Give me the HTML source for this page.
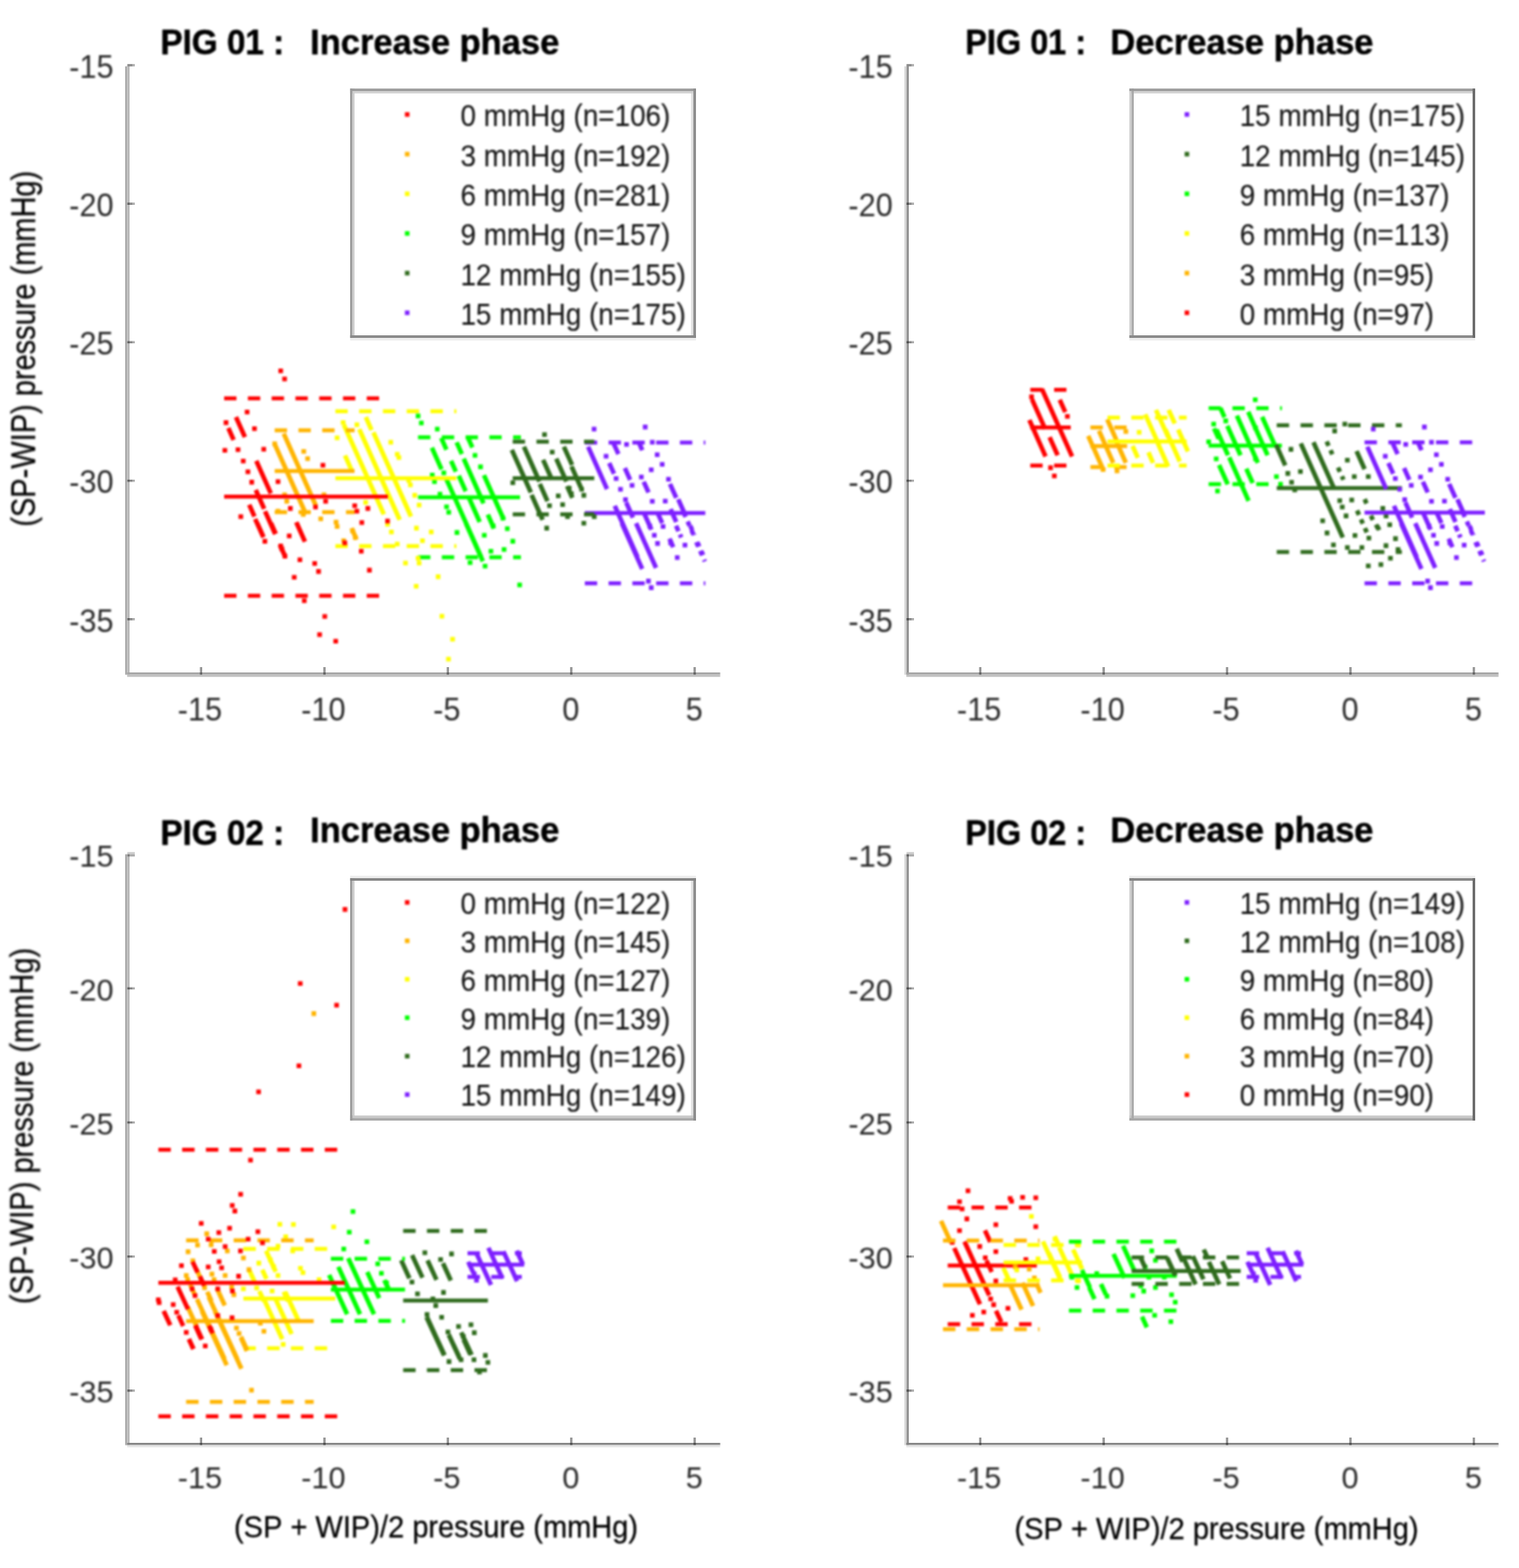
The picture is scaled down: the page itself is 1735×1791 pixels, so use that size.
<!DOCTYPE html>
<html lang="en">
<head>
<meta charset="utf-8">
<title>Bland-Altman plots: PIG 01 / PIG 02, increase and decrease phase</title>
<style>
html,body{margin:0;padding:0;background:#fff;}
body{width:1735px;height:1791px;overflow:hidden;}
svg{display:block;font-family:"Liberation Sans",sans-serif;font-kerning:none;}
.soft{filter:blur(0.8px);}
</style>
</head>
<body>
<svg width="1735" height="1791" viewBox="0 0 1735 1791">
<rect x="0" y="0" width="1735" height="1791" fill="#ffffff"/>
<g id="points" class="soft">
<g id="points-TL">
<g fill="#7d1fff" stroke="#7d1fff">
<path d="M672.8 512.6L692.3 556.3M701.9 508.8L705.3 516.3M730.7 507.6L732.6 511.9M696.9 531.3L700.3 538.8M714.8 537.0L718.7 545.7M736.3 552.6L739.7 560.1M766.3 555.1L771.4 566.3M716.3 576.4L721.9 588.9M703.2 580.1L727.2 634.0M775.7 572.6L781.3 585.1M736.3 587.6L743.0 602.6M751.9 587.6L755.3 595.1M767.0 583.9L771.4 593.9M728.2 601.4L742.8 634.0M765.7 617.6L767.9 622.6M738.8 625.1L742.8 634.0M711.3 600.0L732.5 647.5M727.6 600.0L735.4 617.5M738.8 625.0L748.3 646.3" fill="none" stroke-width="5.2" stroke-linecap="square"/>
<path d="M780.7 585.1L793.0 612.6M772.6 601.4L778.2 613.9M796.3 618.9L803.1 634.0M772.0 600.0L778.1 613.8M788.2 600.0L793.2 611.3M795.1 618.8L805.1 641.3" fill="none" stroke-width="5.2" stroke-dasharray="5.4 5.6" stroke-dashoffset="-0.5"/>
<path d="M675.9 487.4h5.3v5.3h-5.3zM734.3 485.1h5.3v5.3h-5.3zM713.0 504.9h5.3v5.3h-5.3zM742.4 502.4h5.3v5.3h-5.3zM689.6 518.4h5.3v5.3h-5.3zM748.0 516.8h5.3v5.3h-5.3zM753.7 527.7h5.3v5.3h-5.3zM741.2 533.9h5.3v5.3h-5.3zM729.9 542.2h5.3v5.3h-5.3zM760.9 544.7h5.3v5.3h-5.3zM701.1 543.9h5.3v5.3h-5.3zM719.3 551.8h5.3v5.3h-5.3zM706.1 556.2h5.3v5.3h-5.3zM711.8 568.1h5.3v5.3h-5.3zM742.4 570.0h5.3v5.3h-5.3zM757.2 569.7h5.3v5.3h-5.3zM754.7 598.7h5.3v5.3h-5.3zM744.7 608.7h5.3v5.3h-5.3zM748.4 618.1h5.3v5.3h-5.3zM779.7 620.0h5.3v5.3h-5.3zM739.7 598.6h5.3v5.3h-5.3zM763.4 617.4h5.3v5.3h-5.3zM770.9 634.2h5.3v5.3h-5.3zM738.0 661.1h5.3v5.3h-5.3zM741.2 668.6h5.3v5.3h-5.3z" stroke="none"/>
<line x1="668.00" y1="505.60" x2="805.60" y2="505.60" stroke-width="4.5" stroke-dasharray="14.1 13.05"/>
<line x1="668.00" y1="666.25" x2="805.60" y2="666.25" stroke-width="4.5" stroke-dasharray="14.1 13.05"/>
<line x1="668.00" y1="586.00" x2="805.60" y2="586.00" stroke-width="4.5"/>
</g>
<g fill="#2f6b1d" stroke="#2f6b1d">
<path d="M585.7 516.3L605.3 560.1M599.5 512.6L615.1 547.6M621.4 527.6L629.2 545.1M636.4 526.3L645.9 547.6M645.1 512.6L652.4 528.8M608.2 567.6L618.8 591.4M617.6 555.1L624.3 570.1M653.8 535.1L662.7 555.1M648.8 557.6L652.7 566.3" fill="none" stroke-width="5.2" stroke-linecap="square"/>
<path d="M619.3 493.7h5.3v5.3h-5.3zM628.1 513.7h5.3v5.3h-5.3zM583.1 548.7h5.3v5.3h-5.3zM625.0 575.0h5.3v5.3h-5.3zM635.0 563.7h5.3v5.3h-5.3zM640.0 573.7h5.3v5.3h-5.3zM621.8 600.6h5.3v5.3h-5.3zM645.6 587.5h5.3v5.3h-5.3zM647.5 554.9h5.3v5.3h-5.3zM650.0 561.2h5.3v5.3h-5.3zM664.2 563.1h5.3v5.3h-5.3zM661.7 556.2h5.3v5.3h-5.3zM676.1 587.5h5.3v5.3h-5.3zM664.2 595.0h5.3v5.3h-5.3z" stroke="none"/>
<line x1="585.60" y1="504.60" x2="678.75" y2="504.60" stroke-width="4.5" stroke-dasharray="14.1 13.05"/>
<line x1="585.60" y1="587.50" x2="678.75" y2="587.50" stroke-width="4.5" stroke-dasharray="14.1 13.05"/>
<line x1="585.60" y1="546.25" x2="678.75" y2="546.25" stroke-width="4.5"/>
</g>
<g fill="#00ff00" stroke="#00ff00">
<path d="M505.0 502.6L508.9 511.3M522.6 507.6L526.5 516.3M535.7 502.6L538.5 508.8M494.4 513.8L503.3 533.8M516.3 528.8L519.6 536.3M530.7 526.3L551.3 572.6M510.0 547.6L548.6 634.0M553.8 545.1L574.5 591.4M525.1 545.7L530.9 558.8M536.3 570.1L546.9 593.9M558.2 590.1L563.2 601.4M533.2 600.0L550.5 638.8" fill="none" stroke-width="5.2" stroke-linecap="square"/>
<path d="M474.9 472.4h5.3v5.3h-5.3zM478.6 480.5h5.3v5.3h-5.3zM496.8 487.4h5.3v5.3h-5.3zM539.9 517.4h5.3v5.3h-5.3zM546.2 530.6h5.3v5.3h-5.3zM491.1 539.9h5.3v5.3h-5.3zM493.6 547.4h5.3v5.3h-5.3zM504.3 537.4h5.3v5.3h-5.3zM499.9 561.8h5.3v5.3h-5.3zM507.4 576.2h5.3v5.3h-5.3zM509.9 582.5h5.3v5.3h-5.3zM519.3 605.6h5.3v5.3h-5.3zM550.5 608.7h5.3v5.3h-5.3zM576.8 601.2h5.3v5.3h-5.3zM583.1 615.6h5.3v5.3h-5.3zM571.8 589.3h5.3v5.3h-5.3zM573.1 625.0h5.3v5.3h-5.3zM558.1 626.9h5.3v5.3h-5.3zM534.3 639.9h5.3v5.3h-5.3zM551.4 643.9h5.3v5.3h-5.3zM590.9 665.5h5.3v5.3h-5.3zM560.6 598.0h5.3v5.3h-5.3z" stroke="none"/>
<line x1="477.50" y1="499.40" x2="595.00" y2="499.40" stroke-width="4.5" stroke-dasharray="14.1 13.05"/>
<line x1="477.50" y1="636.60" x2="595.00" y2="636.60" stroke-width="4.5" stroke-dasharray="14.1 13.05"/>
<line x1="477.50" y1="568.10" x2="594.00" y2="568.10" stroke-width="4.5"/>
</g>
<g fill="#ffff00" stroke="#ffff00">
<path d="M418.9 478.8L423.3 488.8M393.8 487.5L437.4 585.1M411.4 492.6L455.5 591.4M427.6 496.3L468.4 587.6M395.1 522.6L400.7 535.1" fill="none" stroke-width="5.2" stroke-linecap="square"/>
<path d="M389.3 479.9h5.3v5.3h-5.3zM405.0 482.4h5.3v5.3h-5.3zM382.4 497.4h5.3v5.3h-5.3zM443.7 502.4h5.3v5.3h-5.3zM415.0 571.2h5.3v5.3h-5.3zM440.0 596.2h5.3v5.3h-5.3zM444.4 605.0h5.3v5.3h-5.3zM451.1 516.2h5.3v5.3h-5.3zM453.0 519.9h5.3v5.3h-5.3zM464.2 546.2h5.3v5.3h-5.3zM466.1 551.2h5.3v5.3h-5.3zM471.1 563.1h5.3v5.3h-5.3zM476.1 574.3h5.3v5.3h-5.3zM473.0 600.6h5.3v5.3h-5.3zM489.9 605.0h5.3v5.3h-5.3zM479.9 615.0h5.3v5.3h-5.3zM451.1 618.7h5.3v5.3h-5.3zM460.5 640.5h5.3v5.3h-5.3zM474.9 634.9h5.3v5.3h-5.3zM476.1 640.5h5.3v5.3h-5.3zM497.8 656.1h5.3v5.3h-5.3zM472.7 667.0h5.3v5.3h-5.3zM502.1 701.2h5.3v5.3h-5.3zM514.3 727.4h5.3v5.3h-5.3zM509.6 750.2h5.3v5.3h-5.3z" stroke="none"/>
<line x1="383.10" y1="469.75" x2="521.25" y2="469.75" stroke-width="4.5" stroke-dasharray="14.1 13.05"/>
<line x1="383.10" y1="623.75" x2="521.25" y2="623.75" stroke-width="4.5" stroke-dasharray="14.1 13.05"/>
<line x1="383.10" y1="546.25" x2="521.25" y2="546.25" stroke-width="4.5"/>
</g>
<g fill="#ffb400" stroke="#ffb400">
<path d="M325.1 497.6L359.7 575.1M315.0 510.1L348.5 585.1M402.6 605.6L406.2 613.8" fill="none" stroke-width="5.2" stroke-linecap="square"/>
<path d="M311.1 504.3h5.3v5.3h-5.3zM344.3 513.0h5.3v5.3h-5.3zM348.7 521.2h5.3v5.3h-5.3zM322.4 562.4h5.3v5.3h-5.3zM324.9 570.0h5.3v5.3h-5.3zM367.4 562.4h5.3v5.3h-5.3zM314.9 581.2h5.3v5.3h-5.3zM343.7 585.0h5.3v5.3h-5.3zM363.7 590.0h5.3v5.3h-5.3zM381.2 593.7h5.3v5.3h-5.3zM382.4 598.7h5.3v5.3h-5.3zM400.0 603.7h5.3v5.3h-5.3zM403.1 611.2h5.3v5.3h-5.3zM389.9 615.0h5.3v5.3h-5.3z" stroke="none"/>
<line x1="313.75" y1="491.50" x2="405.00" y2="491.50" stroke-width="4.5" stroke-dasharray="14.1 13.05"/>
<line x1="313.75" y1="585.00" x2="405.00" y2="585.00" stroke-width="4.5" stroke-dasharray="14.1 13.05"/>
<line x1="313.75" y1="538.10" x2="405.00" y2="538.10" stroke-width="4.5"/>
</g>
<g fill="#ff0000" stroke="#ff0000">
<path d="M270.6 478.8L278.7 496.9M261.9 491.3L265.8 500.1M293.8 528.8L308.3 561.3M293.2 562.0L300.7 578.9M285.7 578.9L289.6 587.6M303.8 586.4L313.3 607.6M292.5 595.1L299.8 611.4M339.4 598.9L347.3 616.4M320.7 624.5L324.9 633.9M295.0 600.0L299.5 610.0M310.7 600.0L314.0 607.5M340.1 600.0L347.3 616.3" fill="none" stroke-width="5.2" stroke-linecap="square"/>
<path d="M318.0 420.9h5.3v5.3h-5.3zM322.4 430.2h5.3v5.3h-5.3zM279.6 468.0h5.3v5.3h-5.3zM255.5 480.1h5.3v5.3h-5.3zM288.0 487.0h5.3v5.3h-5.3zM254.2 511.8h5.3v5.3h-5.3zM269.2 510.9h5.3v5.3h-5.3zM298.6 510.5h5.3v5.3h-5.3zM275.2 523.9h5.3v5.3h-5.3zM280.5 536.2h5.3v5.3h-5.3zM284.9 548.1h5.3v5.3h-5.3zM314.9 547.4h5.3v5.3h-5.3zM366.2 528.7h5.3v5.3h-5.3zM369.3 570.0h5.3v5.3h-5.3zM329.0 578.1h5.3v5.3h-5.3zM357.7 576.5h5.3v5.3h-5.3zM402.5 575.0h5.3v5.3h-5.3zM405.0 581.2h5.3v5.3h-5.3zM417.5 578.1h5.3v5.3h-5.3zM272.4 587.5h5.3v5.3h-5.3zM299.9 615.6h5.3v5.3h-5.3zM327.7 609.4h5.3v5.3h-5.3zM410.6 594.3h5.3v5.3h-5.3zM410.0 626.9h5.3v5.3h-5.3zM440.0 592.5h5.3v5.3h-5.3zM318.0 621.1h5.3v5.3h-5.3zM319.3 624.2h5.3v5.3h-5.3zM322.8 632.6h5.3v5.3h-5.3zM339.9 636.7h5.3v5.3h-5.3zM356.8 640.9h5.3v5.3h-5.3zM361.2 650.1h5.3v5.3h-5.3zM333.4 656.8h5.3v5.3h-5.3zM419.3 648.6h5.3v5.3h-5.3zM344.9 683.4h5.3v5.3h-5.3zM368.3 701.5h5.3v5.3h-5.3zM362.4 722.2h5.3v5.3h-5.3zM380.8 729.7h5.3v5.3h-5.3zM391.2 617.4h5.3v5.3h-5.3z" stroke="none"/>
<line x1="256.00" y1="455.00" x2="433.00" y2="455.00" stroke-width="4.5" stroke-dasharray="14.1 13.05"/>
<line x1="256.00" y1="680.40" x2="433.00" y2="680.40" stroke-width="4.5" stroke-dasharray="14.1 13.05"/>
<line x1="256.00" y1="567.25" x2="443.00" y2="567.25" stroke-width="4.5"/>
</g>
</g>
<g id="points-TR">
<g fill="#ff0000" stroke="#ff0000">
<path d="M1179.7 458.3L1192.6 487.2M1176.8 482.1L1193.2 519.0M1191.2 446.7L1223.5 519.0M1199.9 501.7L1207.0 517.6M1211.5 459.0L1215.7 468.4" fill="none" stroke-width="5.2" stroke-linecap="square"/>
<path d="M1216.5 473.0h5.3v5.3h-5.3zM1175.6 450.6h5.3v5.3h-5.3zM1197.3 531.6h5.3v5.3h-5.3zM1201.6 541.0h5.3v5.3h-5.3z" stroke="none"/>
<line x1="1176.80" y1="445.25" x2="1218.50" y2="445.25" stroke-width="4.5" stroke-dasharray="14.1 13.1"/>
<line x1="1176.80" y1="531.80" x2="1218.50" y2="531.80" stroke-width="4.5" stroke-dasharray="14.1 13.1"/>
<line x1="1176.80" y1="488.20" x2="1223.00" y2="488.20" stroke-width="4.5"/>
</g>
<g fill="#ffb400" stroke="#ffb400">
<path d="M1244.0 500.2L1259.5 535.0M1256.3 494.4L1270.5 526.3M1265.7 481.4L1274.1 500.2M1275.9 506.0L1284.9 526.3" fill="none" stroke-width="5.2" stroke-linecap="square"/>
<path d="M1283.3 490.3h5.3v5.3h-5.3zM1273.2 535.2h5.3v5.3h-5.3zM1257.3 533.8h5.3v5.3h-5.3z" stroke="none"/>
<line x1="1245.50" y1="488.20" x2="1287.40" y2="488.20" stroke-width="4.5" stroke-dasharray="14.1 13.1"/>
<line x1="1245.50" y1="533.50" x2="1287.40" y2="533.50" stroke-width="4.5" stroke-dasharray="14.1 13.1"/>
<line x1="1245.50" y1="509.60" x2="1287.40" y2="509.60" stroke-width="4.5"/>
</g>
<g fill="#ffff00" stroke="#ffff00">
<path d="M1309.1 475.6L1322.7 506.0M1321.4 470.6L1333.4 497.3M1323.6 508.9L1333.3 530.6M1335.9 470.6L1340.8 481.4M1332.3 493.0L1346.5 524.8M1346.8 493.0L1355.8 513.3M1294.7 511.8L1298.6 520.5M1312.8 519.0L1316.0 526.3" fill="none" stroke-width="5.2" stroke-linecap="square"/>
<path d="M1298.5 491.1h5.3v5.3h-5.3z" stroke="none"/>
<line x1="1265.00" y1="477.10" x2="1355.40" y2="477.10" stroke-width="4.5" stroke-dasharray="14.1 13.1"/>
<line x1="1265.00" y1="531.80" x2="1355.40" y2="531.80" stroke-width="4.5" stroke-dasharray="14.1 13.1"/>
<line x1="1265.00" y1="504.30" x2="1355.40" y2="504.30" stroke-width="4.5"/>
</g>
<g fill="#00ff00" stroke="#00ff00">
<path d="M1395.0 468.4L1397.6 474.2M1390.6 493.0L1401.6 517.6M1402.9 488.7L1415.9 517.6M1413.8 477.1L1435.7 526.3M1426.8 472.7L1446.8 517.6M1442.7 478.5L1455.0 506.0M1393.5 533.5L1401.3 550.9M1405.1 524.8L1425.1 569.7M1424.6 537.8L1429.8 549.4M1387.7 491.6L1391.0 498.8" fill="none" stroke-width="5.2" stroke-linecap="square"/>
<path d="M1431.1 453.9h5.3v5.3h-5.3zM1383.6 481.7h5.3v5.3h-5.3zM1397.4 478.1h5.3v5.3h-5.3zM1386.5 521.5h5.3v5.3h-5.3zM1431.4 521.5h5.3v5.3h-5.3zM1431.4 486.0h5.3v5.3h-5.3zM1388.0 558.3h5.3v5.3h-5.3zM1455.3 541.7h5.3v5.3h-5.3zM1460.0 550.4h5.3v5.3h-5.3zM1377.9 501.9h5.3v5.3h-5.3z" stroke="none"/>
<line x1="1380.50" y1="466.20" x2="1464.20" y2="466.20" stroke-width="4.5" stroke-dasharray="14.1 13.1"/>
<line x1="1380.50" y1="553.00" x2="1464.20" y2="553.00" stroke-width="4.5" stroke-dasharray="14.1 13.1"/>
<line x1="1380.50" y1="508.90" x2="1464.20" y2="508.90" stroke-width="4.5"/>
</g>
<g fill="#2f6b1d" stroke="#2f6b1d">
<path d="M1458.6 510.4L1467.0 529.2M1486.8 508.9L1532.7 611.6M1501.3 507.5L1522.6 555.2M1550.5 517.6L1557.6 533.5" fill="none" stroke-width="5.2" stroke-linecap="square"/>
<path d="M1515.1 503.8L1521.8 519.0M1528.1 533.5L1534.5 548.0M1549.8 582.7L1562.1 610.2M1558.5 569.7L1562.3 578.4M1565.7 588.5L1568.9 595.7M1572.9 600.1L1576.8 608.7M1571.5 598.6L1576.1 608.7" fill="none" stroke-width="5.2" stroke-dasharray="5.4 5.6" stroke-dashoffset="-0.5"/>
<path d="M1471.9 510.6h5.3v5.3h-5.3zM1468.3 538.1h5.3v5.3h-5.3zM1482.7 535.9h5.3v5.3h-5.3zM1472.6 548.2h5.3v5.3h-5.3zM1476.2 556.9h5.3v5.3h-5.3zM1536.3 522.9h5.3v5.3h-5.3zM1544.2 541.7h5.3v5.3h-5.3zM1560.2 541.7h5.3v5.3h-5.3zM1527.6 569.2h5.3v5.3h-5.3zM1541.3 568.5h5.3v5.3h-5.3zM1530.5 576.4h5.3v5.3h-5.3zM1534.8 586.6h5.3v5.3h-5.3zM1508.1 592.3h5.3v5.3h-5.3zM1513.1 606.1h5.3v5.3h-5.3zM1545.0 609.0h5.3v5.3h-5.3zM1560.9 611.9h5.3v5.3h-5.3zM1520.4 619.8h5.3v5.3h-5.3zM1580.4 620.6h5.3v5.3h-5.3zM1560.2 643.7h5.3v5.3h-5.3zM1574.6 642.3h5.3v5.3h-5.3zM1585.5 635.0h5.3v5.3h-5.3zM1576.8 577.9h5.3v5.3h-5.3zM1584.7 596.7h5.3v5.3h-5.3zM1533.4 481.7h5.3v5.3h-5.3zM1521.8 489.6h5.3v5.3h-5.3zM1536.3 622.7h5.3v5.3h-5.3zM1552.9 622.7h5.3v5.3h-5.3zM1594.2 624.9h5.3v5.3h-5.3zM1591.3 612.6h5.3v5.3h-5.3zM1580.5 586.6h5.3v5.3h-5.3z" stroke="none"/>
<line x1="1458.30" y1="485.80" x2="1601.20" y2="485.80" stroke-width="4.5" stroke-dasharray="14.1 13.1"/>
<line x1="1458.30" y1="630.40" x2="1601.20" y2="630.40" stroke-width="4.5" stroke-dasharray="14.1 13.1"/>
<line x1="1458.30" y1="557.40" x2="1601.20" y2="557.40" stroke-width="4.5"/>
</g>
<g fill="#7d1fff" stroke="#7d1fff">
<path d="M1562.8 512.6L1582.3 556.3M1591.9 508.8L1595.3 516.3M1620.7 507.6L1622.6 511.9M1586.9 531.3L1590.3 538.8M1604.8 537.0L1608.7 545.7M1626.3 552.6L1629.7 560.1M1656.3 555.1L1661.4 566.3M1606.3 576.4L1611.9 588.9M1593.2 580.1L1617.2 634.0M1665.7 572.6L1671.3 585.1M1626.3 587.6L1633.0 602.6M1641.9 587.6L1645.3 595.1M1657.0 583.9L1661.4 593.9M1618.2 601.4L1632.8 634.0M1655.7 617.6L1657.9 622.6M1628.8 625.1L1632.8 634.0M1601.3 600.0L1622.5 647.5M1617.6 600.0L1625.4 617.5M1628.8 625.0L1638.3 646.3" fill="none" stroke-width="5.2" stroke-linecap="square"/>
<path d="M1670.7 585.1L1683.0 612.6M1662.6 601.4L1668.2 613.9M1686.3 618.9L1693.1 634.0M1662.0 600.0L1668.1 613.8M1678.2 600.0L1683.2 611.3M1685.1 618.8L1695.1 641.3" fill="none" stroke-width="5.2" stroke-dasharray="5.4 5.6" stroke-dashoffset="-0.5"/>
<path d="M1565.9 487.4h5.3v5.3h-5.3zM1624.3 485.1h5.3v5.3h-5.3zM1603.0 504.9h5.3v5.3h-5.3zM1632.4 502.4h5.3v5.3h-5.3zM1579.6 518.4h5.3v5.3h-5.3zM1638.0 516.8h5.3v5.3h-5.3zM1643.7 527.7h5.3v5.3h-5.3zM1631.2 533.9h5.3v5.3h-5.3zM1619.9 542.2h5.3v5.3h-5.3zM1650.9 544.7h5.3v5.3h-5.3zM1591.1 543.9h5.3v5.3h-5.3zM1609.3 551.8h5.3v5.3h-5.3zM1596.1 556.2h5.3v5.3h-5.3zM1601.8 568.1h5.3v5.3h-5.3zM1632.4 570.0h5.3v5.3h-5.3zM1647.2 569.7h5.3v5.3h-5.3zM1644.7 598.7h5.3v5.3h-5.3zM1634.7 608.7h5.3v5.3h-5.3zM1638.4 618.1h5.3v5.3h-5.3zM1669.7 620.0h5.3v5.3h-5.3zM1629.7 598.6h5.3v5.3h-5.3zM1653.4 617.4h5.3v5.3h-5.3zM1660.9 634.2h5.3v5.3h-5.3zM1628.0 661.1h5.3v5.3h-5.3zM1631.2 668.6h5.3v5.3h-5.3z" stroke="none"/>
<line x1="1558.60" y1="505.30" x2="1682.50" y2="505.30" stroke-width="4.5" stroke-dasharray="14.1 13.1"/>
<line x1="1558.60" y1="666.30" x2="1682.50" y2="666.30" stroke-width="4.5" stroke-dasharray="14.1 13.1"/>
<line x1="1558.60" y1="585.60" x2="1696.00" y2="585.60" stroke-width="4.5"/>
</g>
</g>
<g id="points-BL">
<g fill="#7d1fff" stroke="#7d1fff">
<path d="M545.1 1433.5L559.8 1465.3M558.9 1427.6L572.8 1457.8M576.1 1431.8L589.6 1461.1M591.2 1431.0L596.2 1441.9M535.9 1443.6L539.8 1451.9" fill="none" stroke-width="5.2" stroke-linecap="square"/>
<path d="M539.1 1452.6h5.3v5.3h-5.3zM541.6 1459.7h5.3v5.3h-5.3z" stroke="none"/>
<line x1="534.00" y1="1431.40" x2="596.00" y2="1431.40" stroke-width="4.5" stroke-dasharray="14.2 12.95"/>
<line x1="534.00" y1="1458.60" x2="596.00" y2="1458.60" stroke-width="4.5" stroke-dasharray="14.2 12.95"/>
<line x1="534.00" y1="1444.40" x2="598.70" y2="1444.40" stroke-width="4.5"/>
</g>
<g fill="#2f6b1d" stroke="#2f6b1d">
<path d="M459.3 1441.9L466.6 1457.8M471.8 1436.0L481.5 1457.0M489.4 1441.9L497.5 1459.5M507.0 1445.2L513.9 1460.3M488.6 1506.4L506.7 1545.7M513.7 1527.3L524.2 1550.0M530.5 1532.3L536.2 1544.9M518.7 1537.4L523.4 1547.4M488.2 1506.7L505.9 1545.2M513.7 1526.8L523.0 1546.9M527.9 1524.3L537.6 1545.2" fill="none" stroke-width="5.2" stroke-linecap="square"/>
<path d="M482.6 1428.3h5.3v5.3h-5.3zM500.6 1435.9h5.3v5.3h-5.3zM513.1 1429.6h5.3v5.3h-5.3zM467.9 1461.8h5.3v5.3h-5.3zM474.2 1475.2h5.3v5.3h-5.3zM503.9 1473.6h5.3v5.3h-5.3zM491.8 1481.1h5.3v5.3h-5.3zM495.1 1488.6h5.3v5.3h-5.3zM485.1 1498.7h5.3v5.3h-5.3zM501.8 1502.0h5.3v5.3h-5.3zM521.1 1512.5h5.3v5.3h-5.3zM535.3 1510.4h5.3v5.3h-5.3zM509.0 1518.8h5.3v5.3h-5.3zM539.1 1519.6h5.3v5.3h-5.3zM526.5 1523.8h5.3v5.3h-5.3zM551.7 1545.6h5.3v5.3h-5.3zM510.2 1552.6h5.3v5.3h-5.3zM524.0 1550.5h5.3v5.3h-5.3zM538.7 1550.5h5.3v5.3h-5.3zM554.6 1553.5h5.3v5.3h-5.3zM545.0 1564.4h5.3v5.3h-5.3z" stroke="none"/>
<line x1="460.50" y1="1405.90" x2="557.30" y2="1405.90" stroke-width="4.5" stroke-dasharray="14.2 12.95"/>
<line x1="460.50" y1="1564.90" x2="557.30" y2="1564.90" stroke-width="4.5" stroke-dasharray="14.2 12.95"/>
<line x1="460.50" y1="1485.40" x2="557.30" y2="1485.40" stroke-width="4.5"/>
</g>
<g fill="#00ff00" stroke="#00ff00">
<path d="M387.5 1449.4L410.2 1498.8M398.8 1439.4L426.2 1498.8M377.0 1458.6L395.5 1498.8M420.6 1455.3L432.1 1480.4M440.7 1465.3L443.4 1471.2M440.0 1464.5L443.5 1472.0" fill="none" stroke-width="5.2" stroke-linecap="square"/>
<path d="M400.5 1381.3h5.3v5.3h-5.3zM396.3 1404.7h5.3v5.3h-5.3zM416.4 1415.7h5.3v5.3h-5.3zM390.0 1423.9h5.3v5.3h-5.3zM428.8 1440.9h5.3v5.3h-5.3zM433.0 1451.8h5.3v5.3h-5.3zM438.9 1462.7h5.3v5.3h-5.3z" stroke="none"/>
<line x1="377.90" y1="1437.70" x2="462.60" y2="1437.70" stroke-width="4.5" stroke-dasharray="14.2 12.95"/>
<line x1="377.90" y1="1508.80" x2="462.60" y2="1508.80" stroke-width="4.5" stroke-dasharray="14.2 12.95"/>
<line x1="377.90" y1="1473.10" x2="462.60" y2="1473.10" stroke-width="4.5"/>
</g>
<g fill="#ffff00" stroke="#ffff00">
<path d="M285.2 1451.9L290.6 1463.7M300.7 1452.8L303.4 1458.6M297.3 1477.1L300.4 1483.8M325.1 1477.9L327.8 1483.8M303.3 1487.9L321.4 1527.3M315.1 1484.6L332.0 1521.4M326.8 1477.9L340.3 1507.2M305.0 1431.0L313.9 1450.3" fill="none" stroke-width="5.2" stroke-linecap="square"/>
<path d="M317.0 1395.7h5.3v5.3h-5.3zM332.5 1396.0h5.3v5.3h-5.3zM378.5 1398.8h5.3v5.3h-5.3zM293.0 1440.1h5.3v5.3h-5.3zM275.4 1469.4h5.3v5.3h-5.3zM290.5 1468.5h5.3v5.3h-5.3zM323.7 1409.9h5.3v5.3h-5.3zM314.9 1420.8h5.3v5.3h-5.3zM331.7 1426.2h5.3v5.3h-5.3zM306.1 1436.3h5.3v5.3h-5.3zM309.9 1444.3h5.3v5.3h-5.3zM340.5 1445.9h5.3v5.3h-5.3zM343.4 1451.0h5.3v5.3h-5.3zM314.9 1454.3h5.3v5.3h-5.3zM361.8 1458.9h5.3v5.3h-5.3zM308.2 1471.9h5.3v5.3h-5.3zM320.8 1533.0h5.3v5.3h-5.3z" stroke="none"/>
<line x1="278.00" y1="1426.40" x2="382.90" y2="1426.40" stroke-width="4.5" stroke-dasharray="14.2 12.95"/>
<line x1="278.00" y1="1540.10" x2="382.90" y2="1540.10" stroke-width="4.5" stroke-dasharray="14.2 12.95"/>
<line x1="278.00" y1="1483.30" x2="382.90" y2="1483.30" stroke-width="4.5"/>
</g>
<g fill="#ffb400" stroke="#ffb400">
<path d="M225.3 1451.9L229.1 1460.3M218.2 1469.5L222.0 1477.9M248.7 1473.7L255.7 1488.8M237.8 1477.9L240.5 1483.8M215.2 1494.6L223.7 1513.1M226.1 1486.3L255.5 1550.0M239.5 1483.8L270.0 1550.0M276.4 1530.7L281.0 1540.7M276.4 1529.3L281.0 1539.4M231.7 1500.0L257.9 1557.0M246.5 1500.0L274.7 1561.1" fill="none" stroke-width="5.2" stroke-linecap="square"/>
<path d="M355.8 1155.1h5.3v5.3h-5.3zM233.5 1406.6h5.3v5.3h-5.3zM223.0 1419.5h5.3v5.3h-5.3zM238.5 1419.1h5.3v5.3h-5.3zM212.2 1427.1h5.3v5.3h-5.3zM257.0 1426.2h5.3v5.3h-5.3zM275.4 1434.2h5.3v5.3h-5.3zM217.6 1437.6h5.3v5.3h-5.3zM281.7 1447.6h5.3v5.3h-5.3zM210.1 1454.3h5.3v5.3h-5.3zM239.4 1452.6h5.3v5.3h-5.3zM254.5 1454.3h5.3v5.3h-5.3zM211.7 1458.9h5.3v5.3h-5.3zM231.0 1468.1h5.3v5.3h-5.3zM241.9 1458.9h5.3v5.3h-5.3zM262.0 1467.7h5.3v5.3h-5.3zM264.5 1476.1h5.3v5.3h-5.3zM294.7 1508.7h5.3v5.3h-5.3zM298.8 1518.0h5.3v5.3h-5.3zM267.4 1514.2h5.3v5.3h-5.3zM270.4 1520.5h5.3v5.3h-5.3zM284.6 1585.3h5.3v5.3h-5.3z" stroke="none"/>
<line x1="212.60" y1="1416.75" x2="358.30" y2="1416.75" stroke-width="4.5" stroke-dasharray="14.2 12.95"/>
<line x1="212.60" y1="1601.30" x2="358.30" y2="1601.30" stroke-width="4.5" stroke-dasharray="14.2 12.95"/>
<line x1="212.60" y1="1509.00" x2="358.30" y2="1509.00" stroke-width="4.5"/>
</g>
<g fill="#ff0000" stroke="#ff0000">
<path d="M221.1 1443.6L224.6 1451.1M229.5 1460.3L232.2 1466.2M203.9 1472.0L213.6 1493.0M188.0 1499.7L193.4 1511.4M204.8 1504.7L208.2 1512.2M224.0 1516.4L229.0 1527.3M239.9 1516.4L241.9 1520.6M216.9 1532.3L219.6 1538.2M224.4 1515.9L229.8 1527.6M216.9 1531.8L220.0 1538.5" fill="none" stroke-width="5.2" stroke-linecap="square"/>
<path d="M391.4 1036.1h5.3v5.3h-5.3zM340.3 1120.7h5.3v5.3h-5.3zM381.8 1145.5h5.3v5.3h-5.3zM338.8 1214.7h5.3v5.3h-5.3zM292.7 1244.4h5.3v5.3h-5.3zM283.5 1322.4h5.3v5.3h-5.3zM272.2 1361.4h5.3v5.3h-5.3zM262.6 1374.3h5.3v5.3h-5.3zM265.6 1380.6h5.3v5.3h-5.3zM227.2 1394.8h5.3v5.3h-5.3zM259.6 1400.2h5.3v5.3h-5.3zM247.3 1405.2h5.3v5.3h-5.3zM291.9 1404.3h5.3v5.3h-5.3zM235.2 1412.8h5.3v5.3h-5.3zM280.8 1412.7h5.3v5.3h-5.3zM297.2 1417.0h5.3v5.3h-5.3zM254.5 1421.2h5.3v5.3h-5.3zM242.1 1426.7h5.3v5.3h-5.3zM272.0 1426.2h5.3v5.3h-5.3zM247.6 1438.4h5.3v5.3h-5.3zM204.6 1443.0h5.3v5.3h-5.3zM235.2 1444.4h5.3v5.3h-5.3zM250.5 1445.5h5.3v5.3h-5.3zM269.9 1455.1h5.3v5.3h-5.3zM197.5 1459.3h5.3v5.3h-5.3zM246.1 1469.4h5.3v5.3h-5.3zM262.8 1471.9h5.3v5.3h-5.3zM220.1 1477.3h5.3v5.3h-5.3zM216.8 1469.4h5.3v5.3h-5.3zM178.2 1481.9h5.3v5.3h-5.3zM179.1 1485.3h5.3v5.3h-5.3zM195.2 1487.4h5.3v5.3h-5.3zM199.2 1496.2h5.3v5.3h-5.3zM246.1 1499.9h5.3v5.3h-5.3zM262.4 1502.5h5.3v5.3h-5.3zM210.1 1519.2h5.3v5.3h-5.3zM231.8 1534.7h5.3v5.3h-5.3zM238.1 1515.4h5.3v5.3h-5.3z" stroke="none"/>
<line x1="180.90" y1="1313.30" x2="387.50" y2="1313.30" stroke-width="4.5" stroke-dasharray="14.2 12.95"/>
<line x1="180.90" y1="1617.70" x2="387.50" y2="1617.70" stroke-width="4.5" stroke-dasharray="14.2 12.95"/>
<line x1="180.90" y1="1465.30" x2="393.80" y2="1465.30" stroke-width="4.5"/>
</g>
</g>
<g id="points-BR">
<g fill="#ff0000" stroke="#ff0000">
<path d="M1126.1 1407.8L1130.0 1416.2M1102.7 1420.4L1128.9 1477.3M1091.0 1427.9L1118.3 1487.4M1127.8 1442.1L1131.7 1450.5M1138.7 1499.4L1142.6 1507.8" fill="none" stroke-width="5.2" stroke-linecap="square"/>
<path d="M1103.0 1357.4h5.3v5.3h-5.3zM1165.4 1364.9h5.3v5.3h-5.3zM1180.4 1365.4h5.3v5.3h-5.3zM1151.1 1366.2h5.3v5.3h-5.3zM1152.8 1369.5h5.3v5.3h-5.3zM1093.3 1370.0h5.3v5.3h-5.3zM1096.3 1378.3h5.3v5.3h-5.3zM1101.7 1389.6h5.3v5.3h-5.3zM1134.8 1396.3h5.3v5.3h-5.3zM1180.4 1398.4h5.3v5.3h-5.3zM1093.3 1403.0h5.3v5.3h-5.3zM1085.0 1416.4h5.3v5.3h-5.3zM1116.4 1421.1h5.3v5.3h-5.3zM1134.8 1426.9h5.3v5.3h-5.3zM1122.7 1434.0h5.3v5.3h-5.3zM1169.1 1436.1h5.3v5.3h-5.3zM1134.8 1460.4h5.3v5.3h-5.3zM1128.9 1480.9h5.3v5.3h-5.3zM1132.3 1487.6h5.3v5.3h-5.3zM1148.6 1491.7h5.3v5.3h-5.3zM1121.0 1495.9h5.3v5.3h-5.3zM1108.0 1499.7h5.3v5.3h-5.3z" stroke="none"/>
<line x1="1082.50" y1="1379.30" x2="1179.50" y2="1379.30" stroke-width="4.5" stroke-dasharray="14.2 12.95"/>
<line x1="1082.50" y1="1512.40" x2="1179.50" y2="1512.40" stroke-width="4.5" stroke-dasharray="14.2 12.95"/>
<line x1="1082.50" y1="1445.50" x2="1184.30" y2="1445.50" stroke-width="4.5"/>
</g>
<g fill="#ffb400" stroke="#ffb400">
<path d="M1075.9 1396.9L1085.1 1417.0M1154.6 1469.3L1165.8 1493.6M1168.9 1467.6L1178.9 1489.4M1184.8 1468.4L1187.5 1474.3" fill="none" stroke-width="5.2" stroke-linecap="square"/>
<path d="M1178.8 1457.1h5.3v5.3h-5.3zM1157.0 1444.5h5.3v5.3h-5.3zM1172.9 1447.0h5.3v5.3h-5.3z" stroke="none"/>
<line x1="1077.10" y1="1417.00" x2="1187.30" y2="1417.00" stroke-width="4.5" stroke-dasharray="14.2 12.95"/>
<line x1="1077.10" y1="1518.30" x2="1187.30" y2="1518.30" stroke-width="4.5" stroke-dasharray="14.2 12.95"/>
<line x1="1077.10" y1="1468.10" x2="1187.30" y2="1468.10" stroke-width="4.5"/>
</g>
<g fill="#ffff00" stroke="#ffff00">
<path d="M1192.3 1420.4L1210.0 1458.9M1147.1 1450.5L1152.1 1461.4M1205.7 1414.5L1208.8 1421.2M1210.9 1427.1L1223.6 1454.7M1226.8 1429.6L1234.9 1447.2M1199.2 1433.8L1209.6 1456.4" fill="none" stroke-width="5.2" stroke-linecap="square"/>
<path d="M1175.4 1386.7h5.3v5.3h-5.3zM1158.7 1447.9h5.3v5.3h-5.3zM1183.0 1435.3h5.3v5.3h-5.3zM1202.4 1412.7h5.3v5.3h-5.3zM1228.8 1419.4h5.3v5.3h-5.3zM1228.8 1460.4h5.3v5.3h-5.3z" stroke="none"/>
<line x1="1146.30" y1="1422.00" x2="1234.50" y2="1422.00" stroke-width="4.5" stroke-dasharray="14.2 12.95"/>
<line x1="1146.30" y1="1462.60" x2="1234.50" y2="1462.60" stroke-width="4.5" stroke-dasharray="14.2 12.95"/>
<line x1="1146.30" y1="1441.90" x2="1236.00" y2="1441.90" stroke-width="4.5"/>
</g>
<g fill="#00ff00" stroke="#00ff00">
<path d="M1272.9 1434.6L1283.3 1457.2M1283.8 1425.4L1294.5 1448.8M1236.9 1453.0L1243.8 1468.1M1245.2 1473.1L1249.1 1481.5M1258.6 1468.9L1262.1 1476.5M1305.5 1506.2L1308.9 1513.7" fill="none" stroke-width="5.2" stroke-linecap="square"/>
<path d="M1312.9 1426.1h5.3v5.3h-5.3zM1317.1 1437.0h5.3v5.3h-5.3zM1305.4 1444.5h5.3v5.3h-5.3zM1250.1 1452.0h5.3v5.3h-5.3zM1221.6 1456.2h5.3v5.3h-5.3zM1227.5 1468.0h5.3v5.3h-5.3zM1261.8 1478.0h5.3v5.3h-5.3zM1291.2 1477.2h5.3v5.3h-5.3zM1303.7 1472.1h5.3v5.3h-5.3zM1300.4 1466.3h5.3v5.3h-5.3zM1317.1 1468.0h5.3v5.3h-5.3zM1335.5 1476.3h5.3v5.3h-5.3zM1339.7 1484.7h5.3v5.3h-5.3zM1309.6 1456.2h5.3v5.3h-5.3zM1327.2 1456.2h5.3v5.3h-5.3zM1316.2 1499.7h5.3v5.3h-5.3zM1334.7 1506.9h5.3v5.3h-5.3z" stroke="none"/>
<line x1="1220.90" y1="1418.30" x2="1344.20" y2="1418.30" stroke-width="4.5" stroke-dasharray="14.2 12.95"/>
<line x1="1220.90" y1="1497.00" x2="1344.20" y2="1497.00" stroke-width="4.5" stroke-dasharray="14.2 12.95"/>
<line x1="1220.90" y1="1457.20" x2="1344.20" y2="1457.20" stroke-width="4.5"/>
</g>
<g fill="#2f6b1d" stroke="#2f6b1d">
<path d="M1303.0 1437.1L1307.3 1446.3M1334.0 1438.8L1340.9 1453.9M1345.1 1428.7L1349.7 1438.8M1351.8 1437.1L1364.5 1464.7M1363.5 1437.1L1373.5 1458.9M1381.9 1443.8L1391.5 1464.7M1397.0 1443.0L1403.9 1458.0M1335.0 1440.5L1341.6 1454.7M1376.0 1429.6L1378.7 1435.4" fill="none" stroke-width="5.2" stroke-linecap="square"/>
<line x1="1292.50" y1="1436.30" x2="1417.10" y2="1436.30" stroke-width="4.5" stroke-dasharray="14.2 12.95"/>
<line x1="1292.50" y1="1466.40" x2="1417.10" y2="1466.40" stroke-width="4.5" stroke-dasharray="14.2 12.95"/>
<line x1="1292.50" y1="1451.80" x2="1417.10" y2="1451.80" stroke-width="4.5"/>
</g>
<g fill="#7d1fff" stroke="#7d1fff">
<path d="M1435.1 1433.5L1449.8 1465.3M1448.9 1427.6L1462.8 1457.8M1466.1 1431.8L1479.6 1461.1M1481.2 1431.0L1486.2 1441.9M1425.9 1443.6L1429.8 1451.9" fill="none" stroke-width="5.2" stroke-linecap="square"/>
<path d="M1429.1 1452.6h5.3v5.3h-5.3zM1431.6 1459.7h5.3v5.3h-5.3z" stroke="none"/>
<line x1="1424.00" y1="1431.40" x2="1486.00" y2="1431.40" stroke-width="4.5" stroke-dasharray="14.2 12.95"/>
<line x1="1424.00" y1="1458.60" x2="1486.00" y2="1458.60" stroke-width="4.5" stroke-dasharray="14.2 12.95"/>
<line x1="1424.00" y1="1444.40" x2="1488.70" y2="1444.40" stroke-width="4.5"/>
</g>
</g>
</g>
<g id="frames">
<rect x="142.9" y="75.7" width="2.55" height="694.95" fill="#ababab"/>
<rect x="145.45" y="75.7" width="2.55" height="694.95" fill="#b8b8b8"/>
<rect x="145.25" y="768.1" width="677.35" height="2.55" fill="#a4a4a4"/>
<rect x="145.25" y="770.65" width="677.35" height="2.55" fill="#c2c2c2"/>
<rect x="228.38" y="762" width="2.55" height="8.65" fill="#000" fill-opacity="0.43"/>
<rect x="369.32" y="762" width="2.55" height="8.65" fill="#000" fill-opacity="0.43"/>
<rect x="510.27" y="762" width="2.55" height="8.65" fill="#000" fill-opacity="0.43"/>
<rect x="651.23" y="762" width="2.55" height="8.65" fill="#000" fill-opacity="0.43"/>
<rect x="792.18" y="762" width="2.55" height="8.65" fill="#000" fill-opacity="0.43"/>
<rect x="145.45" y="73.22" width="5.9" height="2.55" fill="#000" fill-opacity="0.47"/>
<rect x="151.35" y="73.22" width="2.6" height="2.55" fill="#000" fill-opacity="0.33"/>
<rect x="145.45" y="231.42" width="5.9" height="2.55" fill="#000" fill-opacity="0.47"/>
<rect x="151.35" y="231.42" width="2.6" height="2.55" fill="#000" fill-opacity="0.33"/>
<rect x="145.45" y="389.62" width="5.9" height="2.55" fill="#000" fill-opacity="0.47"/>
<rect x="151.35" y="389.62" width="2.6" height="2.55" fill="#000" fill-opacity="0.33"/>
<rect x="145.45" y="547.83" width="5.9" height="2.55" fill="#000" fill-opacity="0.47"/>
<rect x="151.35" y="547.83" width="2.6" height="2.55" fill="#000" fill-opacity="0.33"/>
<rect x="145.45" y="706.02" width="5.9" height="2.55" fill="#000" fill-opacity="0.47"/>
<rect x="151.35" y="706.02" width="2.6" height="2.55" fill="#000" fill-opacity="0.33"/>
<rect x="399.9" y="101.2" width="395" height="287.6" fill="#fff"/>
<rect x="399.9" y="385.9" width="395" height="2.95" fill="#ededed"/>
<rect x="789.4" y="101.2" width="2.65" height="284.7" fill="#dedede"/>
<rect x="399.9" y="103.9" width="395" height="2.75" fill="#d0d0d0"/>
<rect x="402.4" y="101.2" width="2.55" height="284.7" fill="#cfcfcf"/>
<rect x="399.9" y="101.2" width="395" height="2.75" fill="#9a9a9a"/>
<rect x="399.9" y="101.2" width="2.55" height="284.7" fill="#9a9a9a"/>
<rect x="792" y="101.2" width="2.95" height="284.7" fill="#8e8e8e"/>
<rect x="399.9" y="383" width="395" height="2.95" fill="#8a8a8a"/>
<rect x="1032.9" y="75.7" width="2.55" height="694.95" fill="#d8d8d8"/>
<rect x="1035.45" y="75.7" width="2.55" height="694.95" fill="#909090"/>
<rect x="1035.25" y="768.1" width="676.35" height="2.55" fill="#a4a4a4"/>
<rect x="1035.25" y="770.65" width="676.35" height="2.55" fill="#c2c2c2"/>
<rect x="1118.38" y="762" width="2.55" height="8.65" fill="#000" fill-opacity="0.43"/>
<rect x="1259.32" y="762" width="2.55" height="8.65" fill="#000" fill-opacity="0.43"/>
<rect x="1400.27" y="762" width="2.55" height="8.65" fill="#000" fill-opacity="0.43"/>
<rect x="1541.22" y="762" width="2.55" height="8.65" fill="#000" fill-opacity="0.43"/>
<rect x="1682.17" y="762" width="2.55" height="8.65" fill="#000" fill-opacity="0.43"/>
<rect x="1035.45" y="73.22" width="5.9" height="2.55" fill="#000" fill-opacity="0.47"/>
<rect x="1041.35" y="73.22" width="2.6" height="2.55" fill="#000" fill-opacity="0.33"/>
<rect x="1035.45" y="231.42" width="5.9" height="2.55" fill="#000" fill-opacity="0.47"/>
<rect x="1041.35" y="231.42" width="2.6" height="2.55" fill="#000" fill-opacity="0.33"/>
<rect x="1035.45" y="389.62" width="5.9" height="2.55" fill="#000" fill-opacity="0.47"/>
<rect x="1041.35" y="389.62" width="2.6" height="2.55" fill="#000" fill-opacity="0.33"/>
<rect x="1035.45" y="547.83" width="5.9" height="2.55" fill="#000" fill-opacity="0.47"/>
<rect x="1041.35" y="547.83" width="2.6" height="2.55" fill="#000" fill-opacity="0.33"/>
<rect x="1035.45" y="706.02" width="5.9" height="2.55" fill="#000" fill-opacity="0.47"/>
<rect x="1041.35" y="706.02" width="2.6" height="2.55" fill="#000" fill-opacity="0.33"/>
<rect x="1289.9" y="101.2" width="395" height="287.6" fill="#fff"/>
<rect x="1289.9" y="385.9" width="395" height="2.95" fill="#ededed"/>
<rect x="1289.9" y="103.9" width="395" height="2.75" fill="#d0d0d0"/>
<rect x="1289.9" y="101.2" width="2.55" height="284.7" fill="#d0d0d0"/>
<rect x="1292.4" y="101.2" width="2.55" height="284.7" fill="#a8a8a8"/>
<rect x="1289.9" y="101.2" width="395" height="2.75" fill="#9a9a9a"/>
<rect x="1289.9" y="383" width="395" height="2.95" fill="#8a8a8a"/>
<rect x="1682" y="101.2" width="2.95" height="284.7" fill="#6c6c6c"/>
<rect x="142.9" y="975.7" width="2.55" height="674.95" fill="#ababab"/>
<rect x="145.45" y="975.7" width="2.55" height="674.95" fill="#b8b8b8"/>
<rect x="145.25" y="1648.1" width="677.35" height="2.55" fill="#828282"/>
<rect x="145.25" y="1650.65" width="677.35" height="2.55" fill="#e6e6e6"/>
<rect x="228.38" y="1642" width="2.55" height="8.65" fill="#000" fill-opacity="0.43"/>
<rect x="369.32" y="1642" width="2.55" height="8.65" fill="#000" fill-opacity="0.43"/>
<rect x="510.27" y="1642" width="2.55" height="8.65" fill="#000" fill-opacity="0.43"/>
<rect x="651.23" y="1642" width="2.55" height="8.65" fill="#000" fill-opacity="0.43"/>
<rect x="792.18" y="1642" width="2.55" height="8.65" fill="#000" fill-opacity="0.43"/>
<rect x="145.45" y="973.25" width="8.5" height="2.55" fill="#000" fill-opacity="0.2"/>
<rect x="145.45" y="975.8" width="8.5" height="2.55" fill="#000" fill-opacity="0.33"/>
<rect x="145.45" y="1127.67" width="5.9" height="2.55" fill="#000" fill-opacity="0.47"/>
<rect x="151.35" y="1127.67" width="2.6" height="2.55" fill="#000" fill-opacity="0.33"/>
<rect x="145.45" y="1280.82" width="5.9" height="2.55" fill="#000" fill-opacity="0.47"/>
<rect x="151.35" y="1280.82" width="2.6" height="2.55" fill="#000" fill-opacity="0.33"/>
<rect x="145.45" y="1433.97" width="5.9" height="2.55" fill="#000" fill-opacity="0.47"/>
<rect x="151.35" y="1433.97" width="2.6" height="2.55" fill="#000" fill-opacity="0.33"/>
<rect x="145.45" y="1587.12" width="5.9" height="2.55" fill="#000" fill-opacity="0.47"/>
<rect x="151.35" y="1587.12" width="2.6" height="2.55" fill="#000" fill-opacity="0.33"/>
<rect x="399.9" y="1000.4" width="395" height="279.5" fill="#fff"/>
<rect x="399.9" y="1000.4" width="395" height="2.75" fill="#ececec"/>
<rect x="789.4" y="1003.1" width="2.65" height="276.8" fill="#dedede"/>
<rect x="402.4" y="1003.1" width="2.55" height="276.8" fill="#cfcfcf"/>
<rect x="399.9" y="1274.2" width="395" height="2.95" fill="#c8c8c8"/>
<rect x="399.9" y="1277.1" width="395" height="2.85" fill="#a8a8a8"/>
<rect x="399.9" y="1003.1" width="2.55" height="276.8" fill="#9a9a9a"/>
<rect x="792" y="1003.1" width="2.95" height="276.8" fill="#8e8e8e"/>
<rect x="399.9" y="1003.1" width="395" height="2.85" fill="#848484"/>
<rect x="1032.9" y="975.7" width="2.55" height="674.95" fill="#d8d8d8"/>
<rect x="1035.45" y="975.7" width="2.55" height="674.95" fill="#909090"/>
<rect x="1035.25" y="1648.1" width="676.35" height="2.55" fill="#828282"/>
<rect x="1035.25" y="1650.65" width="676.35" height="2.55" fill="#e6e6e6"/>
<rect x="1118.38" y="1642" width="2.55" height="8.65" fill="#000" fill-opacity="0.43"/>
<rect x="1259.32" y="1642" width="2.55" height="8.65" fill="#000" fill-opacity="0.43"/>
<rect x="1400.27" y="1642" width="2.55" height="8.65" fill="#000" fill-opacity="0.43"/>
<rect x="1541.22" y="1642" width="2.55" height="8.65" fill="#000" fill-opacity="0.43"/>
<rect x="1682.17" y="1642" width="2.55" height="8.65" fill="#000" fill-opacity="0.43"/>
<rect x="1035.45" y="973.25" width="8.5" height="2.55" fill="#000" fill-opacity="0.2"/>
<rect x="1035.45" y="975.8" width="8.5" height="2.55" fill="#000" fill-opacity="0.33"/>
<rect x="1035.45" y="1127.67" width="5.9" height="2.55" fill="#000" fill-opacity="0.47"/>
<rect x="1041.35" y="1127.67" width="2.6" height="2.55" fill="#000" fill-opacity="0.33"/>
<rect x="1035.45" y="1280.82" width="5.9" height="2.55" fill="#000" fill-opacity="0.47"/>
<rect x="1041.35" y="1280.82" width="2.6" height="2.55" fill="#000" fill-opacity="0.33"/>
<rect x="1035.45" y="1433.97" width="5.9" height="2.55" fill="#000" fill-opacity="0.47"/>
<rect x="1041.35" y="1433.97" width="2.6" height="2.55" fill="#000" fill-opacity="0.33"/>
<rect x="1035.45" y="1587.12" width="5.9" height="2.55" fill="#000" fill-opacity="0.47"/>
<rect x="1041.35" y="1587.12" width="2.6" height="2.55" fill="#000" fill-opacity="0.33"/>
<rect x="1289.9" y="1000.4" width="395" height="279.5" fill="#fff"/>
<rect x="1289.9" y="1000.4" width="395" height="2.75" fill="#ececec"/>
<rect x="1289.9" y="1003.1" width="2.55" height="276.8" fill="#d0d0d0"/>
<rect x="1289.9" y="1274.2" width="395" height="2.95" fill="#c8c8c8"/>
<rect x="1289.9" y="1277.1" width="395" height="2.85" fill="#a8a8a8"/>
<rect x="1292.4" y="1003.1" width="2.55" height="276.8" fill="#a8a8a8"/>
<rect x="1289.9" y="1003.1" width="395" height="2.85" fill="#848484"/>
<rect x="1682" y="1003.1" width="2.95" height="276.8" fill="#6c6c6c"/>
</g>
<g id="labels" class="soft">
<g id="panel-TL">
<text x="203.11" y="822.95" font-size="37" fill="#2c2c2c" textLength="50.59" lengthAdjust="spacingAndGlyphs">-15</text>
<text x="344.06" y="822.95" font-size="37" fill="#2c2c2c" textLength="50.59" lengthAdjust="spacingAndGlyphs">-10</text>
<text x="494.74" y="822.95" font-size="37" fill="#2c2c2c" textLength="31.12" lengthAdjust="spacingAndGlyphs">-5</text>
<text x="642.22" y="822.95" font-size="37" fill="#2c2c2c" textLength="19.47" lengthAdjust="spacingAndGlyphs">0</text>
<text x="783.17" y="822.95" font-size="37" fill="#2c2c2c" textLength="19.47" lengthAdjust="spacingAndGlyphs">5</text>
<text x="79.11" y="88.8" font-size="37" fill="#2c2c2c" textLength="50.59" lengthAdjust="spacingAndGlyphs">-15</text>
<text x="79.11" y="247" font-size="37" fill="#2c2c2c" textLength="50.59" lengthAdjust="spacingAndGlyphs">-20</text>
<text x="79.11" y="405.2" font-size="37" fill="#2c2c2c" textLength="50.59" lengthAdjust="spacingAndGlyphs">-25</text>
<text x="79.11" y="563.4" font-size="37" fill="#2c2c2c" textLength="50.59" lengthAdjust="spacingAndGlyphs">-30</text>
<text x="79.11" y="721.6" font-size="37" fill="#2c2c2c" textLength="50.59" lengthAdjust="spacingAndGlyphs">-35</text>
<text x="183.2" y="62.2" font-size="41" font-weight="bold" fill="#000000" stroke="#000000" stroke-width="0.5" textLength="141.5" lengthAdjust="spacingAndGlyphs">PIG 01 :</text>
<text x="354.3" y="61.9" font-size="41" font-weight="bold" fill="#000000" stroke="#000000" stroke-width="0.5" textLength="284.5" lengthAdjust="spacingAndGlyphs">Increase phase</text>
<rect x="462.5" y="128.15" width="5.2" height="5.2" fill="#ff0000"/>
<text x="525.9" y="144.45" font-size="35.5" fill="#161616" stroke="#161616" stroke-width="0.15" textLength="239.79" lengthAdjust="spacingAndGlyphs">0 mmHg (n=106)</text>
<rect x="462.5" y="173.45" width="5.2" height="5.2" fill="#ffb400"/>
<text x="525.9" y="189.75" font-size="35.5" fill="#161616" stroke="#161616" stroke-width="0.15" textLength="239.79" lengthAdjust="spacingAndGlyphs">3 mmHg (n=192)</text>
<rect x="462.5" y="218.75" width="5.2" height="5.2" fill="#ffff00"/>
<text x="525.9" y="235.05" font-size="35.5" fill="#161616" stroke="#161616" stroke-width="0.15" textLength="239.79" lengthAdjust="spacingAndGlyphs">6 mmHg (n=281)</text>
<rect x="462.5" y="264.05" width="5.2" height="5.2" fill="#00ff00"/>
<text x="525.9" y="280.35" font-size="35.5" fill="#161616" stroke="#161616" stroke-width="0.15" textLength="239.79" lengthAdjust="spacingAndGlyphs">9 mmHg (n=157)</text>
<rect x="462.5" y="309.35" width="5.2" height="5.2" fill="#2f6b1d"/>
<text x="525.9" y="325.65" font-size="35.5" fill="#161616" stroke="#161616" stroke-width="0.15" textLength="257.5" lengthAdjust="spacingAndGlyphs">12 mmHg (n=155)</text>
<rect x="462.5" y="354.65" width="5.2" height="5.2" fill="#7d1fff"/>
<text x="525.9" y="370.95" font-size="35.5" fill="#161616" stroke="#161616" stroke-width="0.15" textLength="257.5" lengthAdjust="spacingAndGlyphs">15 mmHg (n=175)</text>
</g>
<g id="panel-TR">
<text x="1093.11" y="822.95" font-size="37" fill="#2c2c2c" textLength="50.59" lengthAdjust="spacingAndGlyphs">-15</text>
<text x="1234.06" y="822.95" font-size="37" fill="#2c2c2c" textLength="50.59" lengthAdjust="spacingAndGlyphs">-10</text>
<text x="1384.74" y="822.95" font-size="37" fill="#2c2c2c" textLength="31.12" lengthAdjust="spacingAndGlyphs">-5</text>
<text x="1532.22" y="822.95" font-size="37" fill="#2c2c2c" textLength="19.47" lengthAdjust="spacingAndGlyphs">0</text>
<text x="1673.17" y="822.95" font-size="37" fill="#2c2c2c" textLength="19.47" lengthAdjust="spacingAndGlyphs">5</text>
<text x="969.11" y="88.8" font-size="37" fill="#2c2c2c" textLength="50.59" lengthAdjust="spacingAndGlyphs">-15</text>
<text x="969.11" y="247" font-size="37" fill="#2c2c2c" textLength="50.59" lengthAdjust="spacingAndGlyphs">-20</text>
<text x="969.11" y="405.2" font-size="37" fill="#2c2c2c" textLength="50.59" lengthAdjust="spacingAndGlyphs">-25</text>
<text x="969.11" y="563.4" font-size="37" fill="#2c2c2c" textLength="50.59" lengthAdjust="spacingAndGlyphs">-30</text>
<text x="969.11" y="721.6" font-size="37" fill="#2c2c2c" textLength="50.59" lengthAdjust="spacingAndGlyphs">-35</text>
<text x="1102.6" y="62.2" font-size="41" font-weight="bold" fill="#000000" stroke="#000000" stroke-width="0.5" textLength="138" lengthAdjust="spacingAndGlyphs">PIG 01 :</text>
<text x="1268.3" y="61.9" font-size="41" font-weight="bold" fill="#000000" stroke="#000000" stroke-width="0.5" textLength="300.5" lengthAdjust="spacingAndGlyphs">Decrease phase</text>
<rect x="1353.1" y="128.15" width="5.2" height="5.2" fill="#7d1fff"/>
<text x="1415.9" y="144.45" font-size="35.5" fill="#161616" stroke="#161616" stroke-width="0.15" textLength="257.5" lengthAdjust="spacingAndGlyphs">15 mmHg (n=175)</text>
<rect x="1353.1" y="173.45" width="5.2" height="5.2" fill="#2f6b1d"/>
<text x="1415.9" y="189.75" font-size="35.5" fill="#161616" stroke="#161616" stroke-width="0.15" textLength="257.5" lengthAdjust="spacingAndGlyphs">12 mmHg (n=145)</text>
<rect x="1353.1" y="218.75" width="5.2" height="5.2" fill="#00ff00"/>
<text x="1415.9" y="235.05" font-size="35.5" fill="#161616" stroke="#161616" stroke-width="0.15" textLength="239.79" lengthAdjust="spacingAndGlyphs">9 mmHg (n=137)</text>
<rect x="1353.1" y="264.05" width="5.2" height="5.2" fill="#ffff00"/>
<text x="1415.9" y="280.35" font-size="35.5" fill="#161616" stroke="#161616" stroke-width="0.15" textLength="239.79" lengthAdjust="spacingAndGlyphs">6 mmHg (n=113)</text>
<rect x="1353.1" y="309.35" width="5.2" height="5.2" fill="#ffb400"/>
<text x="1415.9" y="325.65" font-size="35.5" fill="#161616" stroke="#161616" stroke-width="0.15" textLength="222.08" lengthAdjust="spacingAndGlyphs">3 mmHg (n=95)</text>
<rect x="1353.1" y="354.65" width="5.2" height="5.2" fill="#ff0000"/>
<text x="1415.9" y="370.95" font-size="35.5" fill="#161616" stroke="#161616" stroke-width="0.15" textLength="222.08" lengthAdjust="spacingAndGlyphs">0 mmHg (n=97)</text>
</g>
<g id="panel-BL">
<text x="203.11" y="1700.35" font-size="35.9" fill="#2c2c2c" textLength="50.59" lengthAdjust="spacingAndGlyphs">-15</text>
<text x="344.06" y="1700.35" font-size="35.9" fill="#2c2c2c" textLength="50.59" lengthAdjust="spacingAndGlyphs">-10</text>
<text x="494.74" y="1700.35" font-size="35.9" fill="#2c2c2c" textLength="31.12" lengthAdjust="spacingAndGlyphs">-5</text>
<text x="642.22" y="1700.35" font-size="35.9" fill="#2c2c2c" textLength="19.47" lengthAdjust="spacingAndGlyphs">0</text>
<text x="783.17" y="1700.35" font-size="35.9" fill="#2c2c2c" textLength="19.47" lengthAdjust="spacingAndGlyphs">5</text>
<text x="79.11" y="989.7" font-size="35.9" fill="#2c2c2c" textLength="50.59" lengthAdjust="spacingAndGlyphs">-15</text>
<text x="79.11" y="1142.85" font-size="35.9" fill="#2c2c2c" textLength="50.59" lengthAdjust="spacingAndGlyphs">-20</text>
<text x="79.11" y="1296" font-size="35.9" fill="#2c2c2c" textLength="50.59" lengthAdjust="spacingAndGlyphs">-25</text>
<text x="79.11" y="1449.15" font-size="35.9" fill="#2c2c2c" textLength="50.59" lengthAdjust="spacingAndGlyphs">-30</text>
<text x="79.11" y="1602.3" font-size="35.9" fill="#2c2c2c" textLength="50.59" lengthAdjust="spacingAndGlyphs">-35</text>
<text x="183.2" y="964.6" font-size="40" font-weight="bold" fill="#000000" stroke="#000000" stroke-width="0.5" textLength="141.5" lengthAdjust="spacingAndGlyphs">PIG 02 :</text>
<text x="354.3" y="961.6" font-size="40" font-weight="bold" fill="#000000" stroke="#000000" stroke-width="0.5" textLength="284.5" lengthAdjust="spacingAndGlyphs">Increase phase</text>
<rect x="462.5" y="1028.15" width="5.2" height="5.2" fill="#ff0000"/>
<text x="525.9" y="1043.85" font-size="34.4" fill="#161616" stroke="#161616" stroke-width="0.15" textLength="239.79" lengthAdjust="spacingAndGlyphs">0 mmHg (n=122)</text>
<rect x="462.5" y="1072.05" width="5.2" height="5.2" fill="#ffb400"/>
<text x="525.9" y="1087.75" font-size="34.4" fill="#161616" stroke="#161616" stroke-width="0.15" textLength="239.79" lengthAdjust="spacingAndGlyphs">3 mmHg (n=145)</text>
<rect x="462.5" y="1115.95" width="5.2" height="5.2" fill="#ffff00"/>
<text x="525.9" y="1131.65" font-size="34.4" fill="#161616" stroke="#161616" stroke-width="0.15" textLength="239.79" lengthAdjust="spacingAndGlyphs">6 mmHg (n=127)</text>
<rect x="462.5" y="1159.85" width="5.2" height="5.2" fill="#00ff00"/>
<text x="525.9" y="1175.55" font-size="34.4" fill="#161616" stroke="#161616" stroke-width="0.15" textLength="239.79" lengthAdjust="spacingAndGlyphs">9 mmHg (n=139)</text>
<rect x="462.5" y="1203.75" width="5.2" height="5.2" fill="#2f6b1d"/>
<text x="525.9" y="1219.45" font-size="34.4" fill="#161616" stroke="#161616" stroke-width="0.15" textLength="257.5" lengthAdjust="spacingAndGlyphs">12 mmHg (n=126)</text>
<rect x="462.5" y="1247.65" width="5.2" height="5.2" fill="#7d1fff"/>
<text x="525.9" y="1263.35" font-size="34.4" fill="#161616" stroke="#161616" stroke-width="0.15" textLength="257.5" lengthAdjust="spacingAndGlyphs">15 mmHg (n=149)</text>
</g>
<g id="panel-BR">
<text x="1093.11" y="1700.35" font-size="35.9" fill="#2c2c2c" textLength="50.59" lengthAdjust="spacingAndGlyphs">-15</text>
<text x="1234.06" y="1700.35" font-size="35.9" fill="#2c2c2c" textLength="50.59" lengthAdjust="spacingAndGlyphs">-10</text>
<text x="1384.74" y="1700.35" font-size="35.9" fill="#2c2c2c" textLength="31.12" lengthAdjust="spacingAndGlyphs">-5</text>
<text x="1532.22" y="1700.35" font-size="35.9" fill="#2c2c2c" textLength="19.47" lengthAdjust="spacingAndGlyphs">0</text>
<text x="1673.17" y="1700.35" font-size="35.9" fill="#2c2c2c" textLength="19.47" lengthAdjust="spacingAndGlyphs">5</text>
<text x="969.11" y="989.7" font-size="35.9" fill="#2c2c2c" textLength="50.59" lengthAdjust="spacingAndGlyphs">-15</text>
<text x="969.11" y="1142.85" font-size="35.9" fill="#2c2c2c" textLength="50.59" lengthAdjust="spacingAndGlyphs">-20</text>
<text x="969.11" y="1296" font-size="35.9" fill="#2c2c2c" textLength="50.59" lengthAdjust="spacingAndGlyphs">-25</text>
<text x="969.11" y="1449.15" font-size="35.9" fill="#2c2c2c" textLength="50.59" lengthAdjust="spacingAndGlyphs">-30</text>
<text x="969.11" y="1602.3" font-size="35.9" fill="#2c2c2c" textLength="50.59" lengthAdjust="spacingAndGlyphs">-35</text>
<text x="1102.6" y="964.6" font-size="40" font-weight="bold" fill="#000000" stroke="#000000" stroke-width="0.5" textLength="138" lengthAdjust="spacingAndGlyphs">PIG 02 :</text>
<text x="1268.3" y="961.6" font-size="40" font-weight="bold" fill="#000000" stroke="#000000" stroke-width="0.5" textLength="300.5" lengthAdjust="spacingAndGlyphs">Decrease phase</text>
<rect x="1353.1" y="1028.15" width="5.2" height="5.2" fill="#7d1fff"/>
<text x="1415.9" y="1043.85" font-size="34.4" fill="#161616" stroke="#161616" stroke-width="0.15" textLength="257.5" lengthAdjust="spacingAndGlyphs">15 mmHg (n=149)</text>
<rect x="1353.1" y="1072.05" width="5.2" height="5.2" fill="#2f6b1d"/>
<text x="1415.9" y="1087.75" font-size="34.4" fill="#161616" stroke="#161616" stroke-width="0.15" textLength="257.5" lengthAdjust="spacingAndGlyphs">12 mmHg (n=108)</text>
<rect x="1353.1" y="1115.95" width="5.2" height="5.2" fill="#00ff00"/>
<text x="1415.9" y="1131.65" font-size="34.4" fill="#161616" stroke="#161616" stroke-width="0.15" textLength="222.08" lengthAdjust="spacingAndGlyphs">9 mmHg (n=80)</text>
<rect x="1353.1" y="1159.85" width="5.2" height="5.2" fill="#ffff00"/>
<text x="1415.9" y="1175.55" font-size="34.4" fill="#161616" stroke="#161616" stroke-width="0.15" textLength="222.08" lengthAdjust="spacingAndGlyphs">6 mmHg (n=84)</text>
<rect x="1353.1" y="1203.75" width="5.2" height="5.2" fill="#ffb400"/>
<text x="1415.9" y="1219.45" font-size="34.4" fill="#161616" stroke="#161616" stroke-width="0.15" textLength="222.08" lengthAdjust="spacingAndGlyphs">3 mmHg (n=70)</text>
<rect x="1353.1" y="1247.65" width="5.2" height="5.2" fill="#ff0000"/>
<text x="1415.9" y="1263.35" font-size="34.4" fill="#161616" stroke="#161616" stroke-width="0.15" textLength="222.08" lengthAdjust="spacingAndGlyphs">0 mmHg (n=90)</text>
</g>
<text transform="translate(40.0,601.6) rotate(-90)" font-size="38.5" fill="#000000" stroke="#000000" stroke-width="0.3" textLength="406.5" lengthAdjust="spacingAndGlyphs">(SP-WIP) pressure (mmHg)</text>
<text transform="translate(37.7,1489.6) rotate(-90)" font-size="36" fill="#000000" stroke="#000000" stroke-width="0.3" textLength="407.0" lengthAdjust="spacingAndGlyphs">(SP-WIP) pressure (mmHg)</text>
<text x="267.3" y="1756" font-size="35" fill="#000000" stroke="#000000" stroke-width="0.3" textLength="461.5" lengthAdjust="spacingAndGlyphs">(SP + WIP)/2 pressure (mmHg)</text>
<text x="1158.8" y="1758.4" font-size="35" fill="#000000" stroke="#000000" stroke-width="0.3" textLength="461.5" lengthAdjust="spacingAndGlyphs">(SP + WIP)/2 pressure (mmHg)</text>
</g>
</svg>
</body>
</html>
